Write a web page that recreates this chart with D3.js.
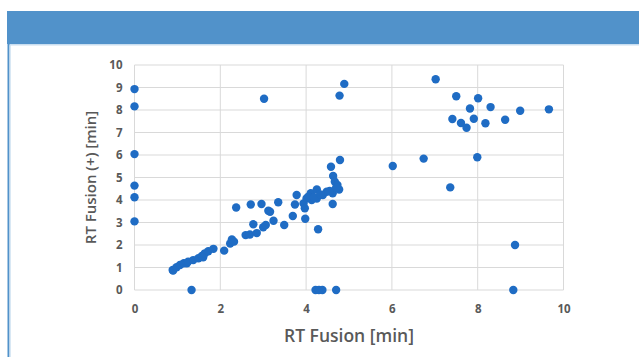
<!DOCTYPE html>
<html>
<head>
<meta charset="utf-8">
<script src="https://cdn.jsdelivr.net/npm/d3@7"></script>
<style>
  body { margin: 0; background: #fff; }
  svg { display: block; }
</style>
</head>
<body>
<div id="chart"></div>
<script>
// RT Fusion vs RT Fusion (+), minutes
const rtFusion = [
  0, 0, 0, 0, 0, 0,
  1.33, 4.22, 4.30, 4.38, 4.70, 8.83, 8.87,
  3.02, 4.89, 4.78, 4.79, 4.58, 6.02, 6.74, 7.36, 7.99,
  7.02, 7.50, 8.01, 7.82, 8.30, 8.99, 9.66, 7.41, 7.61, 7.74, 7.91, 8.18, 8.64,
  0.89, 0.90, 0.98, 1.06, 1.15, 1.22, 1.25, 1.37, 1.49, 1.57, 1.60, 1.64, 1.72, 1.84, 2.09,
  2.23, 2.27, 2.32, 2.37, 2.59, 2.69, 2.71, 2.77, 2.85, 2.96, 3.00, 3.06, 3.12, 3.16, 3.24,
  3.35, 3.49, 3.69, 3.74, 3.78, 3.94, 3.97, 3.98, 4.01, 4.11, 4.13, 4.25, 4.25, 4.28, 4.39,
  4.48, 4.62, 4.62, 4.63, 4.67, 4.73, 4.77, 4.05, 4.18, 4.33, 4.55, 4.70
];
const rtFusionPlus = [
  8.93, 8.16, 6.04, 4.64, 4.12, 3.05,
  0, 0, 0, 0, 0, 0, 2.0,
  8.50, 9.16, 8.64, 5.78, 5.48, 5.51, 5.84, 4.56, 5.90,
  9.37, 8.61, 8.52, 8.07, 8.13, 7.97, 8.03, 7.60, 7.42, 7.21, 7.61, 7.41, 7.57,
  0.89, 0.86, 1.01, 1.11, 1.19, 1.19, 1.26, 1.33, 1.41, 1.51, 1.45, 1.63, 1.72, 1.83, 1.75,
  2.07, 2.25, 2.15, 3.67, 2.44, 2.47, 3.80, 2.92, 2.53, 3.82, 2.79, 2.89, 3.52, 3.48, 3.08,
  3.90, 2.89, 3.29, 3.80, 4.22, 3.85, 3.63, 3.17, 4.07, 4.30, 4.00, 4.47, 4.07, 2.70, 4.22,
  4.37, 4.30, 3.82, 5.07, 4.81, 4.67, 4.47, 4.15, 4.12, 4.25, 4.40, 4.55
];
const xTicks = [0, 2, 4, 6, 8, 10];
const yTicks = [0, 1, 2, 3, 4, 5, 6, 7, 8, 9, 10];

const W = 639, H = 357;
const svg = d3.select('#chart').append('svg')
  .attr('width', W)
  .attr('height', H);

// slide frame: blue header band and left rule
svg.append('rect')
  .attr('x', 7).attr('y', 11)
  .attr('width', W - 7).attr('height', 33)
  .attr('fill', '#5192ca');
svg.append('rect')
  .attr('x', 8).attr('y', 44)
  .attr('width', W - 8).attr('height', 1.5)
  .attr('fill', '#c9def0');
svg.append('rect')
  .attr('x', 7.5).attr('y', 44)
  .attr('width', 2).attr('height', H - 44)
  .attr('fill', '#5192ca');
svg.append('rect')
  .attr('x', 9.5).attr('y', 45)
  .attr('width', 1.2).attr('height', H - 45)
  .attr('fill', '#c9def0');

const x = d3.scaleLinear().domain([0, 10]).range([134.5, 563.5]);
const y = d3.scaleLinear().domain([0, 10]).range([290, 65]);

const gridColor = '#d9d9d9';
const textColor = '#595959';
const font = "'Open Sans', sans-serif";

// gridlines
svg.append('g')
  .selectAll('line')
  .data(yTicks)
  .join('line')
  .attr('x1', x(0)).attr('x2', x(10))
  .attr('y1', d => y(d)).attr('y2', d => y(d))
  .attr('stroke', gridColor)
  .attr('stroke-width', 1);

svg.append('g')
  .selectAll('line')
  .data(xTicks)
  .join('line')
  .attr('x1', d => x(d)).attr('x2', d => x(d))
  .attr('y1', y(0)).attr('y2', y(10))
  .attr('stroke', gridColor)
  .attr('stroke-width', 1);

// axes (labels only, Excel-like)
const xAxis = svg.append('g')
  .attr('transform', `translate(0,${y(0)})`)
  .call(d3.axisBottom(x).tickValues(xTicks).tickSize(0).tickPadding(15));
const yAxis = svg.append('g')
  .attr('transform', `translate(${x(0)},0)`)
  .call(d3.axisLeft(y).tickValues(yTicks).tickSize(0).tickPadding(12));

[xAxis, yAxis].forEach(a => {
  a.select('.domain').remove();
  a.selectAll('text')
    .attr('fill', textColor)
    .style('font-family', font)
    .style('font-size', '11.5px')
    .style('font-weight', 700);
});

// axis titles
svg.append('text')
  .attr('x', (x(0) + x(10)) / 2)
  .attr('y', 342)
  .attr('text-anchor', 'middle')
  .attr('fill', textColor)
  .style('font-family', font)
  .style('font-size', '17.5px')
  .style('font-weight', 600)
  .text('RT Fusion [min]');

svg.append('text')
  .attr('transform', `translate(96,${(y(0) + y(10)) / 2}) rotate(-90)`)
  .attr('text-anchor', 'middle')
  .attr('fill', textColor)
  .style('font-family', font)
  .style('font-size', '15px')
  .style('font-weight', 600)
  .text('RT Fusion (+) [min]');

// points
svg.append('g')
  .selectAll('circle')
  .data(rtFusion.map((d, i) => [d, rtFusionPlus[i]]))
  .join('circle')
  .attr('cx', d => x(d[0]))
  .attr('cy', d => y(d[1]))
  .attr('r', 4.2)
  .attr('fill', '#1f6cc4');
</script>
</body>
</html>
